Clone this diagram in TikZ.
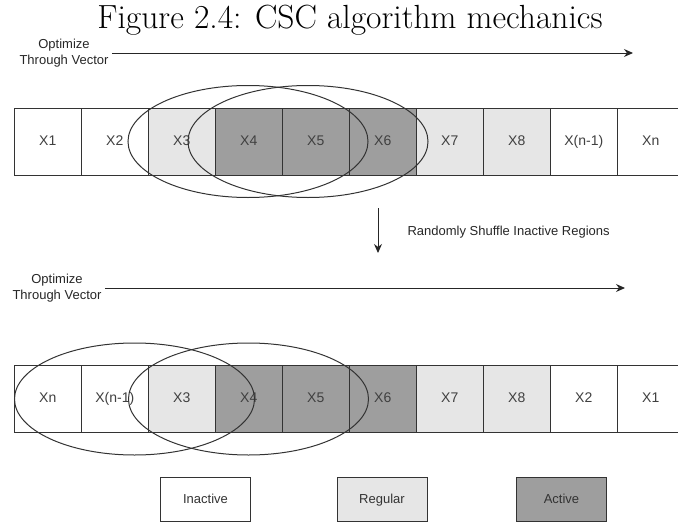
\documentclass[tikz,border=0pt]{standalone}
\usepackage{fontspec}
\newfontfamily\drawfont{Liberation Sans}
\usetikzlibrary{arrows.meta,shapes.geometric,positioning}
\definecolor{regfill}{HTML}{E6E6E6}
\definecolor{actfill}{HTML}{9E9E9E}
\definecolor{edgegray}{HTML}{333333}
\tikzset{
  cell/.style={draw=edgegray, line width=1pt, minimum width=67pt, minimum height=67pt,
    inner sep=0pt, text height=10pt, text depth=3pt,
    font=\drawfont\fontsize{14}{16}\selectfont, text=black!75},
  inactive/.style={cell, fill=white},
  regular/.style={cell, fill=regfill},
  active/.style={cell, fill=actfill},
  window/.style={ellipse, draw=edgegray, line width=1pt, minimum width=240pt,
    minimum height=112pt, inner sep=0pt},
  caption/.style={font=\drawfont\fontsize{13}{16}\selectfont, align=center, text=black!85},
  legend/.style={draw=edgegray, line width=1pt, minimum width=90pt, minimum height=44pt,
    inner sep=0pt, text height=9.5pt, text depth=2.5pt,
    font=\drawfont\fontsize{13}{16}\selectfont, text=black!80},
  flow/.style={-{Stealth[length=9pt,width=8pt]}, line width=1pt, draw=black!85}
}
\begin{document}
\begin{tikzpicture}[x=1pt, y=-1pt]
  \useasboundingbox (0,0) rectangle (678,522);

  % Titolo
  \node[anchor=base, font=\fontsize{33.5}{38}\selectfont] (title) at (350,28.5) {Figure 2.4: CSC algorithm mechanics};

  % Vettore iniziale
  \node[caption] (optA) at (64,53) {Optimize\\Through Vector};
  \coordinate (tipA) at (633,53);
  \node[inactive] (t1) at (47.8,141.5) {X1};
  \node[inactive] (t2) at (114.8,141.5) {X2};
  \node[regular] (t3) at (181.8,141.5) {X3};
  \node[active] (t4) at (248.8,141.5) {X4};
  \node[active] (t5) at (315.8,141.5) {X5};
  \node[active] (t6) at (382.8,141.5) {X6};
  \node[regular] (t7) at (449.8,141.5) {X7};
  \node[regular] (t8) at (516.8,141.5) {X8};
  \node[inactive] (t9) at (583.8,141.5) {X(n-1)};
  \node[inactive] (t10) at (650.8,141.5) {Xn};
  \node[window] (winA) at (248,141.5) {};
  \node[window] (winB) at (308,141.5) {};

  % Rimescolamento
  \coordinate (shufTop) at (378,208);
  \coordinate (shufBot) at (378,253);
  \node[caption, anchor=west] (shuf) at (404,232) {Randomly Shuffle Inactive Regions};

  % Vettore rimescolato
  \node[caption] (optB) at (57,288) {Optimize\\Through Vector};
  \coordinate (tipB) at (625,288);
  \node[inactive] (b1) at (47.8,399) {Xn};
  \node[inactive] (b2) at (114.8,399) {X(n-1)};
  \node[regular] (b3) at (181.8,399) {X3};
  \node[active] (b4) at (248.8,399) {X4};
  \node[active] (b5) at (315.8,399) {X5};
  \node[active] (b6) at (382.8,399) {X6};
  \node[regular] (b7) at (449.8,399) {X7};
  \node[regular] (b8) at (516.8,399) {X8};
  \node[inactive] (b9) at (583.8,399) {X2};
  \node[inactive] (b10) at (650.8,399) {X1};
  \node[window] (winC) at (134.5,399) {};
  \node[window] (winD) at (248.5,399) {};

  % Legenda
  \node[legend, fill=white] (legIn) at (205.5,499.5) {Inactive};
  \node[legend, fill=regfill] (legReg) at (382,499.5) {Regular};
  \node[legend, fill=actfill] (legAct) at (561.5,499.5) {Active};

  % Frecce
  \draw[flow] (optA) -- (tipA);
  \draw[flow] (shufTop) -- (shufBot);
  \draw[flow] (optB) -- (tipB);
\end{tikzpicture}
\end{document}
